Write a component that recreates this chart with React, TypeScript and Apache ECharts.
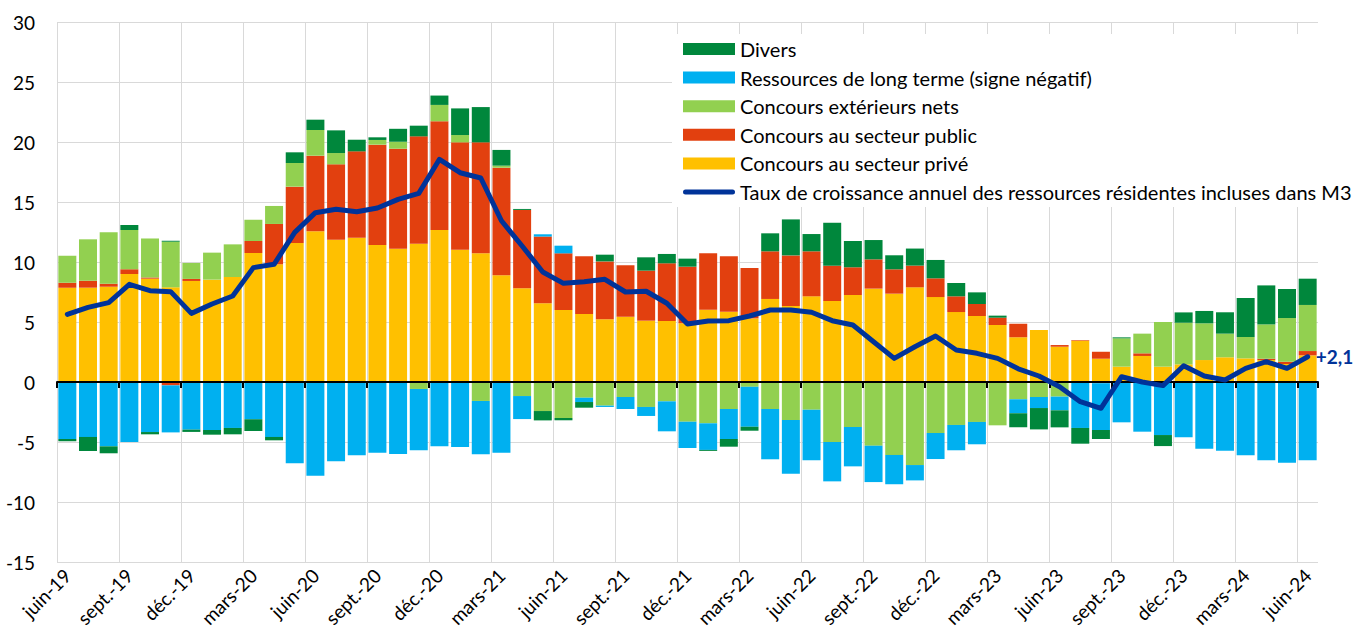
import React, { useEffect, useRef } from "react";
import * as echarts from "echarts";

const categories = [
  "juin-19", "juil.-19", "août-19", "sept.-19", "oct.-19", "nov.-19", "déc.-19",
  "janv.-20", "févr.-20", "mars-20", "avr.-20", "mai-20", "juin-20", "juil.-20", "août-20", "sept.-20", "oct.-20", "nov.-20", "déc.-20",
  "janv.-21", "févr.-21", "mars-21", "avr.-21", "mai-21", "juin-21", "juil.-21", "août-21", "sept.-21", "oct.-21", "nov.-21", "déc.-21",
  "janv.-22", "févr.-22", "mars-22", "avr.-22", "mai-22", "juin-22", "juil.-22", "août-22", "sept.-22", "oct.-22", "nov.-22", "déc.-22",
  "janv.-23", "févr.-23", "mars-23", "avr.-23", "mai-23", "juin-23", "juil.-23", "août-23", "sept.-23", "oct.-23", "nov.-23", "déc.-23",
  "janv.-24", "févr.-24", "mars-24", "avr.-24", "mai-24", "juin-24",
];

const prive = [
  7.86, 7.86, 7.94, 9.0, 8.61, 7.89, 8.42, 8.53, 8.75, 10.75,
  9.81, 11.58, 12.56, 11.86, 12.03, 11.42, 11.11, 11.53, 12.67, 11.03,
  10.72, 8.89, 7.81, 6.56, 6.0, 5.67, 5.22, 5.44, 5.11, 5.08,
  4.89, 6.03, 5.86, 5.3, 6.92, 6.33, 7.14, 6.75, 7.25, 7.78,
  7.36, 7.89, 7.08, 5.83, 5.5, 4.75, 3.72, 4.33, 2.94, 3.44,
  1.94, 1.28, 2.17, 1.28, 1.47, 1.83, 2.06, 1.97, 1.83, 1.5, 2.22,
];

const public_ = [
  0.42, 0.58, 0.25, 0.39, 0.1, -0.28, 0.17, -0.08, 0, 1.0,
  3.36, 4.7, 6.3, 6.28, 7.19, 8.36, 8.33, 8.94, 9.06, 8.94,
  9.25, 8.97, 6.53, 5.56, 4.72, 4.81, 4.83, 4.28, 4.17, 4.81,
  4.72, 4.69, 4.61, 4.2, 3.97, 4.22, 3.75, 2.94, 2.31, 2.44,
  2.03, 1.81, 1.56, 1.31, 1.0, 0.61, 1.14, 0, 0.14, 0.05,
  0.58, 0, 0.22, -0.05, 0, 0, 0, 0, 0.11, 0.19, 0.36,
];

const exterieurs = [
  2.25, 3.45, 4.28, 3.28, 3.25, 3.8, 1.33, 2.25, 2.72, 1.78,
  1.5, 1.97, 2.14, 0.94, 0, 0.39, 0.58, -0.58, 1.36, 0.61,
  -1.58, 0.17, -1.17, -2.42, -3.0, -1.31, -1.97, -1.25, -2.08, -1.61,
  -3.31, -3.44, -2.25, -0.4, -2.25, -3.17, -2.31, -5.0, -3.75, -5.31,
  -6.08, -6.92, -4.25, -3.58, -3.33, -3.61, -1.44, -1.25, -1.22, 0,
  -0.1, 2.36, 1.64, 3.72, 3.47, 3.06, 1.97, 1.78, 2.86, 3.64, 3.84,
];

const longTerme = [
  -4.75, -4.58, -5.36, -5.0, -4.17, -3.92, -3.97, -3.92, -3.83, -3.11,
  -4.58, -6.78, -7.81, -6.61, -6.11, -5.89, -6.0, -5.11, -5.36, -5.42,
  -4.44, -5.89, -1.92, 0.19, 0.64, -0.36, -0.11, -1.0, -0.75, -2.5,
  -2.19, -2.22, -2.5, -3.33, -4.19, -4.47, -4.22, -3.28, -3.28, -3.03,
  -2.44, -1.28, -2.17, -2.11, -1.86, 0, -1.17, -0.92, -1.14, -3.83,
  -3.9, -3.36, -4.14, -4.37, -4.61, -5.56, -5.72, -6.11, -6.53, -6.72, -6.53,
];

const divers = [
  -0.19, -1.17, -0.58, 0.42, -0.19, 0.08, -0.19, -0.39, -0.53, -0.97,
  -0.28, 0.89, 0.86, 1.89, 0.97, 0.22, 1.08, 0.89, 0.78, 2.22,
  2.94, 1.31, 0.08, -0.78, -0.19, -0.47, 0.56, 0, 1.11, 0.78,
  0.67, -0.08, -0.64, -0.33, 1.5, 3.0, 1.44, 3.58, 2.19, 1.61,
  1.17, 1.42, 1.53, 1.11, 0.97, 0.17, -1.17, -1.78, -1.42, -1.31,
  -0.75, 0.08, 0, -0.92, 0.86, 1.03, 1.78, 3.25, 3.25, 2.42, 2.19,
];

const taux = [
  5.64, 6.22, 6.61, 8.14, 7.61, 7.53, 5.72, 6.5, 7.17, 9.53,
  9.81, 12.47, 14.11, 14.39, 14.19, 14.5, 15.22, 15.72, 18.56, 17.44,
  17.0, 13.44, 11.33, 9.17, 8.22, 8.36, 8.56, 7.5, 7.56, 6.56,
  4.83, 5.08, 5.11, 5.5, 6.0, 6.0, 5.81, 5.11, 4.75, 3.36,
  1.97, 2.94, 3.83, 2.67, 2.39, 1.97, 1.1, 0.5, -0.4, -1.64,
  -2.19, 0.44, 0.0, -0.3, 1.36, 0.5, 0.17, 1.14, 1.69, 1.14, 2.1,
];

const yTicks = { min: -15, max: 30, step: 5 };

const NAMES = {
  divers: "Divers",
  lt: "Ressources de long terme (signe négatif)",
  ext: "Concours extérieurs nets",
  pub: "Concours au secteur public",
  priv: "Concours au secteur privé",
  taux: "Taux de croissance annuel des ressources résidentes incluses dans M3",
};

const COLORS = {
  divers: "#00873C",
  lt: "#00B0F0",
  ext: "#92D050",
  pub: "#E2400F",
  priv: "#FFC000",
  taux: "#003399",
};

const FONT = "Lato, 'Noto Sans', sans-serif";

export default function App() {
  const ref = useRef<HTMLDivElement>(null);
  useEffect(() => {
    const chart = echarts.init(ref.current!, null, { renderer: "svg" });
    const barCommon = {
      type: "bar",
      stack: "total",
      stackStrategy: "samesign",
      barCategoryGap: "13%",
      xAxisIndex: 0,
      yAxisIndex: 0,
      z: 2,
    };
    chart.setOption({
      animation: false,
      textStyle: { fontFamily: FONT },
      grid: { left: 57, right: 41, top: 22, bottom: 78, containLabel: false },
      legend: {
        orient: "vertical",
        left: 672,
        top: 34,
        padding: [5, 10, 5, 11],
        backgroundColor: "#ffffff",
        itemWidth: 52,
        itemHeight: 12,
        itemGap: 8.6,
        selectedMode: false,
        textStyle: { fontSize: 20, color: "#000", lineHeight: 20, fontFamily: FONT },
        data: [
          { name: NAMES.divers, icon: "rect" },
          { name: NAMES.lt, icon: "rect" },
          { name: NAMES.ext, icon: "rect" },
          { name: NAMES.pub, icon: "rect" },
          { name: NAMES.priv, icon: "rect" },
          {
            name: NAMES.taux,
            icon: "path://M2.5,0 L49.5,0 A2.5,2.5 0 0 1 49.5,5 L2.5,5 A2.5,2.5 0 0 1 2.5,0 Z",
          },
        ],
      },
      xAxis: [
        {
          type: "category",
          data: categories,
          position: "bottom",
          z: 3,
          axisLine: { show: true, onZero: true, lineStyle: { color: "#000", width: 2 } },
          axisTick: { show: true, interval: 2, length: 6, lineStyle: { color: "#000", width: 2 } },
          axisLabel: { show: false },
          splitLine: { show: false },
        },
        {
          type: "category",
          data: categories,
          position: "bottom",
          axisLine: { show: false, onZero: false },
          axisTick: { show: false },
          axisLabel: { show: true, interval: 2, rotate: 45, fontSize: 19, color: "#000", margin: 10, fontFamily: FONT },
          splitLine: {
            show: true,
            interval: 2,
            showMaxLine: false,
            lineStyle: { color: "#D9D9D9", width: 1 },
          },
        },
      ],
      yAxis: {
        type: "value",
        min: yTicks.min,
        max: yTicks.max,
        interval: yTicks.step,
        axisLine: { show: false },
        axisTick: { show: false },
        axisLabel: { fontSize: 19, color: "#000", margin: 22, fontFamily: FONT },
        splitLine: { show: true, lineStyle: { color: "#D9D9D9", width: 1 } },
      },
      series: [
        { ...barCommon, name: NAMES.priv, data: prive, itemStyle: { color: COLORS.priv } },
        { ...barCommon, name: NAMES.pub, data: public_, itemStyle: { color: COLORS.pub } },
        { ...barCommon, name: NAMES.ext, data: exterieurs, itemStyle: { color: COLORS.ext } },
        { ...barCommon, name: NAMES.lt, data: longTerme, itemStyle: { color: COLORS.lt } },
        { ...barCommon, name: NAMES.divers, data: divers, itemStyle: { color: COLORS.divers } },
        {
          type: "line",
          name: NAMES.taux,
          xAxisIndex: 0,
          yAxisIndex: 0,
          z: 5,
          symbol: "none",
          showSymbol: false,
          smooth: false,
          lineStyle: { color: COLORS.taux, width: 5, cap: "round", join: "round" },
          itemStyle: { color: COLORS.taux },
          endLabel: {
            show: true,
            distance: 8,
            fontSize: 19,
            fontWeight: "bold",
            color: COLORS.taux,
            fontFamily: FONT,
            formatter: (p: any) => "+" + Number(p.value).toFixed(1).replace(".", ","),
          },
          data: taux,
        },
      ],
    });
    return () => chart.dispose();
  }, []);
  return (
    <div
      ref={ref}
      style={{ position: "fixed", left: 0, top: 0, width: 1359, height: 640, background: "#fff" }}
    />
  );
}
